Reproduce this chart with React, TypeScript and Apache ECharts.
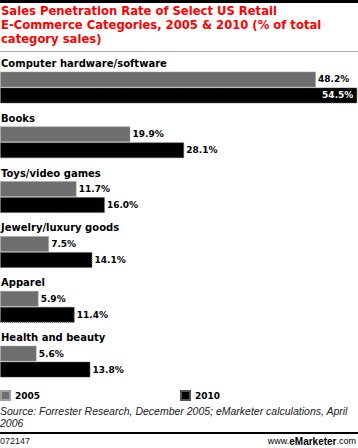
import React, { useEffect, useRef } from "react";
import * as echarts from "echarts";

const categories = [
  "Computer hardware/software",
  "Books",
  "Toys/video games",
  "Jewelry/luxury goods",
  "Apparel",
  "Health and beauty",
];
const values2005 = [48.2, 19.9, 11.7, 7.5, 5.9, 5.6];
const values2010 = [54.5, 28.1, 16.0, 14.1, 11.4, 13.8];
const seriesNames = ["2005", "2010"];
const titleText =
  "Sales Penetration Rate of Select US Retail\nE-Commerce Categories, 2005 & 2010 (% of total\ncategory sales)";
const sourceText =
  "Source: Forrester Research, December 2005; eMarketer calculations, April\n2006";
const footerId = "072147";

const FONT = "'Liberation Sans', Arial, sans-serif";
const VFONT = "'DejaVu Sans', Verdana, sans-serif";

export default function App() {
  const ref = useRef<HTMLDivElement>(null);
  useEffect(() => {
    if (!ref.current) return;
    const chart = echarts.init(ref.current, undefined, { renderer: "svg" });
    const fmt = (p: any) => Number(p.value).toFixed(1) + "%";
    const labelBase = {
      show: true,
      position: "right",
      distance: 2,
      formatter: fmt,
      fontFamily: VFONT,
      fontWeight: "bold",
      fontSize: 9,
      color: "#000",
    };
    const legendBase = {
      top: 390,
      itemWidth: 9,
      itemHeight: 9,
      itemGap: 5,
      padding: 0,
      icon: "rect",
      textStyle: { fontFamily: VFONT, fontWeight: "bold", fontSize: 9, color: "#000" },
    };
    chart.setOption({
      animation: false,
      backgroundColor: "#fff",
      grid: { left: 0, right: 0, top: 60, height: 329, containLabel: false },
      xAxis: { type: "value", min: 0, max: 54.6, show: false },
      yAxis: { type: "category", data: categories, inverse: true, show: false },
      legend: [
        { ...legendBase, left: 0, data: [seriesNames[0]] },
        { ...legendBase, left: 180, data: [seriesNames[1]] },
      ],
      series: [
        {
          name: seriesNames[0],
          type: "bar",
          barWidth: 16,
          barGap: "0%",
          itemStyle: { color: "#6e6e6e", borderColor: "#a0a0a0", borderWidth: 1, borderType: "dotted" },
          label: labelBase,
          data: values2005,
        },
        {
          name: seriesNames[1],
          type: "bar",
          barWidth: 16,
          barGap: "0%",
          itemStyle: { color: "#000", borderColor: "#555", borderWidth: 1, borderType: "dotted" },
          label: labelBase,
          data: values2010.map((v) =>
            v > 50 ? { value: v, label: { position: "insideRight", color: "#fff", distance: 4 } } : v
          ),
        },
      ],
      graphic: [
        { type: "rect", shape: { x: 0, y: 0, width: 358, height: 3 }, style: { fill: "#000" } },
        {
          type: "text",
          x: 1,
          y: 4,
          style: {
            text: titleText,
            font: `bold 11.6px ${VFONT}`,
            fill: "#f00",
            lineHeight: 14,
            textVerticalAlign: "top",
          },
        },
        { type: "rect", shape: { x: 0, y: 51, width: 358, height: 1 }, style: { fill: "#aaa" } },
        {
          type: "text",
          x: 0,
          y: 405,
          style: {
            text: sourceText,
            font: `italic 10.5px ${FONT}`,
            fill: "#222",
            lineHeight: 12,
            textVerticalAlign: "top",
          },
        },
        { type: "rect", shape: { x: 0, y: 432, width: 358, height: 2 }, style: { fill: "#000" } },
        {
          type: "text",
          x: 0,
          y: 441,
          style: { text: footerId, font: `9px ${FONT}`, fill: "#222", textVerticalAlign: "middle" },
        },
        {
          type: "text",
          x: 356,
          y: 441,
          style: {
            text: "{a|www.}{e|e}{m|Marketer}{a|.com}",
            textAlign: "right",
            textVerticalAlign: "middle",
            rich: {
              a: { fontFamily: FONT, fontSize: 9, color: "#222" },
              e: { fontFamily: FONT, fontSize: 10, fontWeight: "bold", color: "#e00" },
              m: { fontFamily: FONT, fontSize: 10, fontWeight: "bold", color: "#000" },
            },
          },
        },
      ],
    });
    const catLabels = categories.map((c, i) => {
      const y = chart.convertToPixel({ yAxisIndex: 0 }, c) as number;
      return {
        id: "cat" + i,
        type: "text",
        x: 1,
        y: y - 24,
        style: {
          text: c,
          font: `bold 10px ${VFONT}`,
          fill: "#000",
          textVerticalAlign: "middle",
        },
      };
    });
    chart.setOption({ graphic: catLabels });
    return () => chart.dispose();
  }, []);
  return (
    <div
      ref={ref}
      style={{ position: "fixed", left: 0, top: 0, width: 358, height: 448 }}
    />
  );
}
